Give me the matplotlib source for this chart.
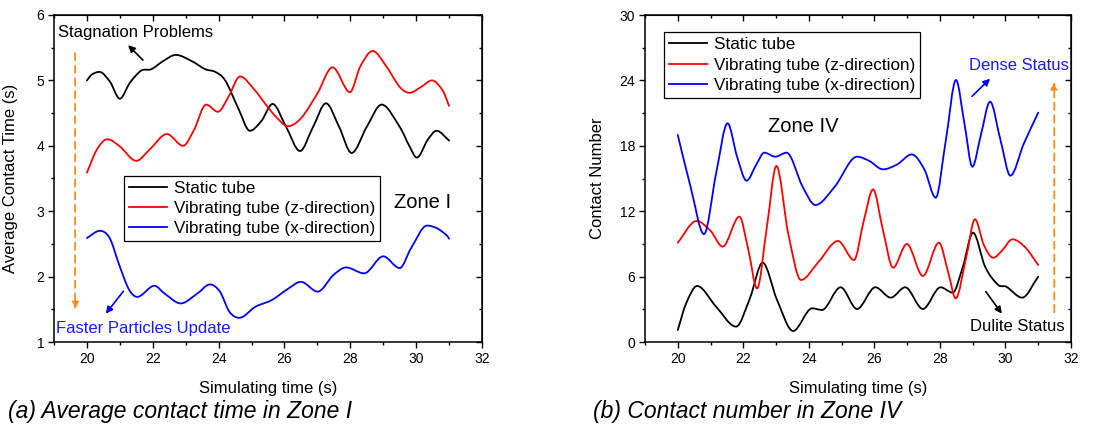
import matplotlib
matplotlib.use("Agg")
import matplotlib.pyplot as plt
from matplotlib.ticker import MultipleLocator
from matplotlib.path import Path
from matplotlib.patches import PathPatch
from matplotlib.lines import Line2D

plt.rcParams['font.family'] = ['Liberation Sans', 'DejaVu Sans']

# ---------------- data: panel (a) average contact time, Zone I ----------------
a_static_x = [20, 20.15, 20.38, 20.7, 21.0, 21.3, 21.65, 21.95, 22.3, 22.7, 23.2, 23.6, 23.9,
              24.2, 24.6, 24.95, 25.3, 25.64, 26.05, 26.47, 26.87, 27.26, 27.66, 28.04, 28.5,
              28.95, 29.5, 29.8, 30.02, 30.35, 30.62, 31]
a_static_y = [5.0, 5.09, 5.13, 4.98, 4.72, 4.96, 5.15, 5.17, 5.29, 5.39, 5.29, 5.17, 5.13,
              5.0, 4.57, 4.23, 4.38, 4.64, 4.29, 3.92, 4.29, 4.65, 4.29, 3.89, 4.29,
              4.63, 4.29, 3.99, 3.82, 4.09, 4.23, 4.08]

a_vibz_x = [20, 20.3, 20.62, 21.0, 21.5, 21.9, 22.43, 22.92, 23.25, 23.62, 23.98, 24.3, 24.65,
            25.1, 25.45, 25.75, 26.1, 26.5, 27.0, 27.46, 27.99, 28.3, 28.68, 29.1, 29.5, 29.8,
            30.15, 30.48, 30.8, 31]
a_vibz_y = [3.59, 3.94, 4.10, 3.99, 3.77, 3.94, 4.18, 4.0, 4.24, 4.63, 4.52, 4.75, 5.06,
            4.85, 4.62, 4.44, 4.30, 4.42, 4.80, 5.20, 4.82, 5.21, 5.45, 5.21, 4.90, 4.81,
            4.90, 5.0, 4.85, 4.61]

a_vibx_x = [20, 20.39, 20.69, 20.98, 21.28, 21.53, 22.05, 22.36, 22.85, 23.35, 23.74, 24.04,
            24.33, 24.63, 25.12, 25.61, 26.1, 26.5, 27.01, 27.48, 27.87, 28.42, 29.0, 29.5,
            29.84, 30.33, 30.63, 30.93, 31]
a_vibx_y = [2.59, 2.70, 2.59, 2.18, 1.80, 1.69, 1.86, 1.74, 1.59, 1.74, 1.88, 1.77,
            1.46, 1.37, 1.54, 1.64, 1.81, 1.92, 1.77, 2.02, 2.14, 2.05, 2.31, 2.13,
            2.43, 2.78, 2.74, 2.63, 2.58]

# ---------------- data: panel (b) contact number, Zone IV ----------------
b_static_x = [20, 20.25, 20.59, 21.17, 21.78, 22.2, 22.59, 23.03, 23.52, 24.1, 24.4, 24.97,
              25.47, 26.03, 26.5, 26.94, 27.48, 28.02, 28.39, 28.7, 29.01, 29.38, 29.78,
              30.02, 30.51, 31]
b_static_y = [1.1, 3.5, 5.14, 3.24, 1.41, 4.0, 7.28, 3.85, 1.01, 3.09, 2.94, 5.02,
              3.03, 5.02, 4.07, 5.02, 3.03, 5.02, 4.53, 6.9, 10.03, 6.9, 5.23,
              5.08, 4.07, 5.99]

b_vibz_x = [20, 20.57, 21.0, 21.37, 21.88, 22.15, 22.42, 22.72, 23.01, 23.37, 23.76, 24.3,
            24.89, 25.38, 25.67, 25.96, 26.26, 26.57, 26.99, 27.48, 27.97, 28.26, 28.48,
            28.8, 29.07, 29.34, 29.63, 29.9, 30.21, 30.6, 31]
b_vibz_y = [9.11, 11.1, 10.2, 8.75, 11.5, 8.5, 4.92, 10.58, 16.15, 9.97, 5.69, 7.37,
            9.27, 7.52, 11.04, 14.0, 10.28, 6.82, 8.99, 6.06, 9.11, 6.3, 4.01,
            7.73, 11.26, 8.9, 7.73, 8.4, 9.42, 8.7, 7.06]

b_vibx_x = [20, 20.39, 20.8, 21.17, 21.52, 21.81, 22.1, 22.4, 22.64, 22.98, 23.32, 23.81,
            24.2, 24.79, 25.47, 25.85, 26.26, 26.7, 27.14, 27.53, 27.87, 28.18, 28.49,
            28.75, 28.99, 29.25, 29.53, 29.85, 30.15, 30.56, 31.0]
b_vibx_y = [18.99, 14.25, 9.9, 15.47, 20.06, 17.0, 14.8, 16.3, 17.37, 17.0, 17.37, 14.25,
            12.57, 14.25, 17.0, 16.6, 15.84, 16.3, 17.21, 15.8, 13.24, 18.5, 24.04,
            20.0, 16.08, 19.0, 22.05, 18.5, 15.26, 18.2, 21.04]

labels = ["Static tube", "Vibrating tube (z-direction)", "Vibrating tube (x-direction)"]
colors = ["#000000", "#ff0000", "#0000ff"]

fig = plt.figure(figsize=(11.05, 4.36), dpi=100)
W, H = 1105, 436
axA = fig.add_axes([54 / W, 1 - 342 / H, 428 / W, 327 / H])
axB = fig.add_axes([645 / W, 1 - 342 / H, 426 / W, 327 / H])


def smooth_curve(ax, xs, ys, color, lw):
    """Draw a smooth (Bezier/Hermite) curve through the data points, in data coords."""
    n = len(xs)
    m = []
    for i in range(n):
        if i == 0:
            s = (ys[1] - ys[0]) / (xs[1] - xs[0])
        elif i == n - 1:
            s = (ys[-1] - ys[-2]) / (xs[-1] - xs[-2])
        else:
            up = ys[i] - ys[i - 1]
            dn = ys[i + 1] - ys[i]
            if up * dn <= 0:
                s = 0.0
            else:
                s = (ys[i + 1] - ys[i - 1]) / (xs[i + 1] - xs[i - 1])
        m.append(s)
    verts = [(xs[0], ys[0])]
    codes = [Path.MOVETO]
    for i in range(n - 1):
        h = xs[i + 1] - xs[i]
        verts += [(xs[i] + h / 3, ys[i] + m[i] * h / 3),
                  (xs[i + 1] - h / 3, ys[i + 1] - m[i + 1] * h / 3),
                  (xs[i + 1], ys[i + 1])]
        codes += [Path.CURVE4] * 3
    ax.add_patch(PathPatch(Path(verts, codes), facecolor='none', edgecolor=color,
                           lw=lw, transform=ax.transData, capstyle='round',
                           joinstyle='round'))


def style(ax, ylim, ymaj, ymin):
    ax.set_xlim(19, 32)
    ax.set_ylim(*ylim)
    ax.xaxis.set_major_locator(MultipleLocator(2))
    ax.xaxis.set_minor_locator(MultipleLocator(1))
    ax.yaxis.set_major_locator(MultipleLocator(ymaj))
    ax.yaxis.set_minor_locator(MultipleLocator(ymin))
    ax.tick_params(which='major', direction='out', length=4, width=1, labelsize=10, pad=3)
    ax.tick_params(which='minor', direction='out', length=2.5, width=1)
    for s in ax.spines.values():
        s.set_linewidth(1.1)
    top = ax.secondary_xaxis('top')
    top.xaxis.set_major_locator(MultipleLocator(2))
    top.xaxis.set_minor_locator(MultipleLocator(1))
    top.tick_params(which='major', direction='in', length=4, width=1, labeltop=False)
    top.tick_params(which='minor', direction='in', length=2.5, width=1)
    right = ax.secondary_yaxis('right')
    right.yaxis.set_major_locator(MultipleLocator(ymaj))
    right.yaxis.set_minor_locator(MultipleLocator(ymin))
    right.tick_params(which='major', direction='in', length=4, width=1, labelright=False)
    right.tick_params(which='minor', direction='in', length=2.5, width=1)
    ax.set_xlabel("Simulating time (s)", fontsize=12)
    ax.xaxis.set_label_coords(0.5, -0.118)


lw = 1.3
handles = [Line2D([], [], color=c, lw=lw) for c in colors]
leg_kw = dict(fontsize=12.3, frameon=True, fancybox=False, edgecolor='black',
              framealpha=1, borderaxespad=0, borderpad=0.3, labelspacing=0.3,
              handlelength=2.2, handletextpad=0.4)

# panel (a)
for xs, ys, c in [(a_static_x, a_static_y, colors[0]),
                  (a_vibz_x, a_vibz_y, colors[1]),
                  (a_vibx_x, a_vibx_y, colors[2])]:
    smooth_curve(axA, xs, ys, c, lw)
style(axA, (1, 6), 1, 0.5)
axA.set_ylabel("Average Contact Time (s)", fontsize=12)
axA.yaxis.set_label_coords(-0.084, 0.5)
legA = axA.legend(handles, labels, loc='upper left', bbox_to_anchor=(0.1636, 0.5086),
                  **leg_kw)
legA.get_frame().set_linewidth(0.9)
axA.text(19.12, 5.74, "Stagnation Problems", fontsize=12, ha='left', va='center')
axA.annotate("", xy=(21.19, 5.57), xytext=(21.76, 5.28),
             arrowprops=dict(arrowstyle='-|>', color='black', lw=1.2, mutation_scale=10))
axA.annotate("", xy=(19.64, 1.46), xytext=(19.64, 5.46),
             arrowprops=dict(arrowstyle='-|>', color='#ff8c1a', lw=1.3, ls=(0, (4, 3)),
                             mutation_scale=10))
axA.text(29.33, 3.13, "Zone I", fontsize=14.5, ha='left', va='center')
axA.annotate("", xy=(20.52, 1.40), xytext=(21.16, 1.81),
             arrowprops=dict(arrowstyle='-|>', color='#0000ff', lw=1.2, mutation_scale=10))
axA.text(19.06, 1.21, "Faster Particles Update", fontsize=12, color='#1a1aff',
         ha='left', va='center')

# panel (b)
for xs, ys, c in [(b_static_x, b_static_y, colors[0]),
                  (b_vibz_x, b_vibz_y, colors[1]),
                  (b_vibx_x, b_vibx_y, colors[2])]:
    smooth_curve(axB, xs, ys, c, lw)
style(axB, (0, 30), 6, 3)
axB.set_ylabel("Contact Number", fontsize=12)
axB.yaxis.set_label_coords(-0.094, 0.5)
legB = axB.legend(handles, labels, loc='upper left', bbox_to_anchor=(0.0446, 0.947),
                  **leg_kw)
legB.get_frame().set_linewidth(0.9)
axB.text(22.76, 19.8, "Zone IV", fontsize=14.5, ha='left', va='center')
axB.text(28.89, 25.4, "Dense Status", fontsize=12, color='#1a1aff', ha='left', va='center')
axB.annotate("", xy=(29.59, 24.34), xytext=(28.92, 22.36),
             arrowprops=dict(arrowstyle='-|>', color='#0000ff', lw=1.2, mutation_scale=10))
axB.annotate("", xy=(31.49, 24.1), xytext=(31.49, 2.48),
             arrowprops=dict(arrowstyle='-|>', color='#ff8c1a', lw=1.3, ls=(0, (4, 3)),
                             mutation_scale=10))
axB.text(28.92, 1.4, "Dulite Status", fontsize=12, ha='left', va='center')
axB.annotate("", xy=(29.94, 2.39), xytext=(29.35, 4.83),
             arrowprops=dict(arrowstyle='-|>', color='black', lw=1.2, mutation_scale=10))

fig.text(8 / W, 1 - 411 / H, "(a) Average contact time in Zone I", fontsize=16.5,
         style='italic', ha='left', va='center')
fig.text(593 / W, 1 - 411 / H, "(b) Contact number in Zone IV", fontsize=16.5,
         style='italic', ha='left', va='center')

fig.savefig("out.png", dpi=100)
